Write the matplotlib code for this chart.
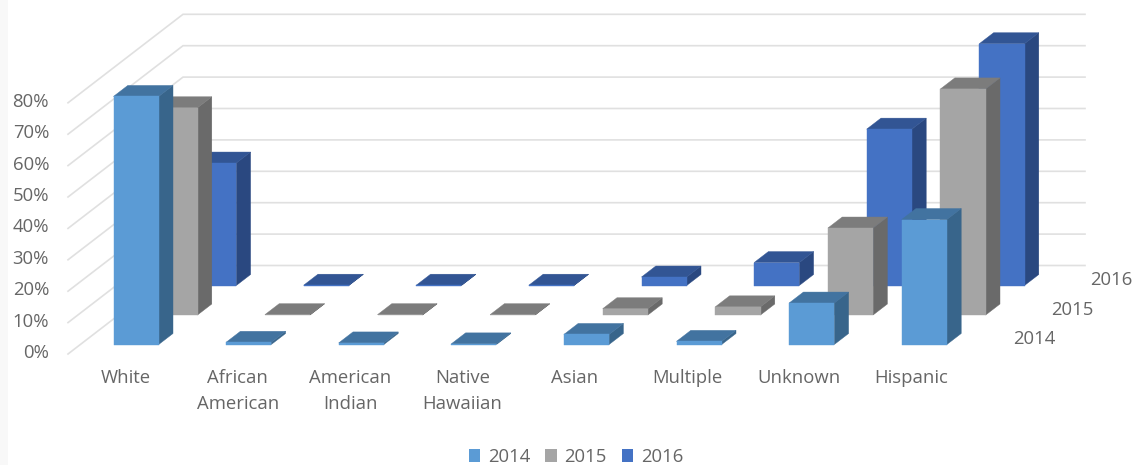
import matplotlib
matplotlib.use("Agg")
import matplotlib.pyplot as plt
from matplotlib.patches import Polygon, Rectangle, Patch

categories = ["White", "African\nAmerican", "American\nIndian", "Native\nHawaiian",
              "Asian", "Multiple", "Unknown", "Hispanic"]
series_names = ["2014", "2015", "2016"]
values_2014 = [79, 0.7, 0.5, 0.2, 3.2, 1.0, 13.2, 39.8]
values_2015 = [66, 0.1, 0.1, 0.1, 2.0, 2.6, 27.7, 72]
values_2016 = [39, 0.1, 0.1, 0.1, 2.7, 7.3, 49.8, 77]
y_ticks = [0, 10, 20, 30, 40, 50, 60, 70, 80]

front_cols = ["#5B9BD5", "#A5A5A5", "#4472C4"]
side_cols = ["#38658B", "#6A6A6A", "#2A4880"]
top_cols = ["#4273A0", "#7C7C7C", "#325594"]
TXT = "#666666"
FONT = ["Open Sans", "DejaVu Sans"]
FS = 13.3

plt.rcParams["font.family"] = FONT

# oblique projection of (category, series depth, value) onto the page
X0, Y0 = 113.5, 344.5
CAT_DX, SER_DX, SER_DY, VAL_DY = 112.6, 38.8, 29.5, 3.14
BAR_W, DEPTH_DX, DEPTH_DY = 45.2, 14.3, 11.0


def proj(c, s, v, w=0.0, f=0.0):
    return (X0 + CAT_DX * c + SER_DX * s + BAR_W * w + DEPTH_DX * f,
            Y0 - SER_DY * s - VAL_DY * v - DEPTH_DY * f)


fig = plt.figure(figsize=(11.36, 4.65), dpi=100, facecolor="white")
ax = fig.add_axes([0, 0, 1, 1])
ax.set_xlim(0, 1136)
ax.set_ylim(465, 0)
ax.axis("off")
ax.add_patch(Rectangle((0, 0), 8, 465, fc="#F8F8F8", ec="none", zorder=0))

# walls
WALL_X0, WALL_Y0, WALL_X1, WALL_Y1, WALL_X2 = 68, 354, 183, 265.5, 1085
for t in y_ticks:
    ax.plot([WALL_X0, WALL_X1, WALL_X2],
            [WALL_Y0 - VAL_DY * t, WALL_Y1 - VAL_DY * t, WALL_Y1 - VAL_DY * t],
            color="#E0E0E0", lw=1.2, zorder=1, solid_joinstyle="miter")
    ax.text(49, 353 - VAL_DY * t, f"{t}%", ha="right", va="center",
            fontsize=FS, color=TXT)

# bars, back series first
all_values = [values_2014, values_2015, values_2016]
z = 2
for s in [2, 1, 0]:
    for c, v in enumerate(all_values[s]):
        front = [proj(c, s, 0), proj(c, s, 0, 1), proj(c, s, v, 1), proj(c, s, v)]
        side = [proj(c, s, 0, 1), proj(c, s, 0, 1, 1), proj(c, s, v, 1, 1), proj(c, s, v, 1)]
        top = [proj(c, s, v), proj(c, s, v, 1), proj(c, s, v, 1, 1), proj(c, s, v, 0, 1)]
        for pts, col in ((side, side_cols[s]), (top, top_cols[s]), (front, front_cols[s])):
            ax.add_patch(Polygon(pts, closed=True, fc=col, ec=col, lw=0.3, zorder=z))
    z += 1

# category labels
for c, name in enumerate(categories):
    ax.text(125.5 + 112.3 * c, 369, name, ha="center", va="top", fontsize=FS,
            color=TXT, linespacing=1.6)

# series labels on the depth axis
for s, name in enumerate(series_names):
    ax.text(1034 + SER_DX * s, 339 - 29.5 * s, name, ha="center", va="center",
            fontsize=FS, color=TXT)

handles = [Patch(fc=front_cols[i], ec="none", label=series_names[i]) for i in range(3)]
fig.legend(handles=handles, loc="center", bbox_to_anchor=(576 / 1136, 1 - 457 / 465),
           ncol=3, frameon=False, fontsize=FS, labelcolor=TXT, handlelength=0.62,
           handleheight=0.7, handletextpad=0.4, columnspacing=0.83, borderpad=0)

fig.savefig("out.png", dpi=100, facecolor="white")
